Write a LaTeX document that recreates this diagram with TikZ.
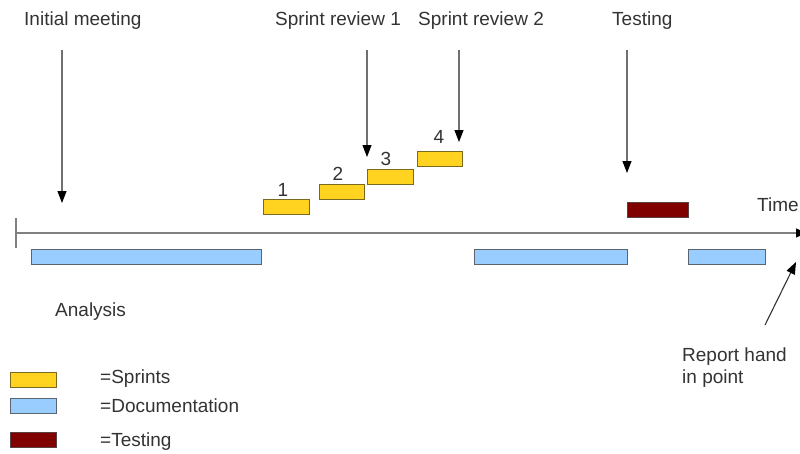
\documentclass[tikz,border=0pt]{standalone}
\usepackage{fontspec}
\setmainfont{Liberation Sans}
\usetikzlibrary{arrows.meta}
\definecolor{txt}{HTML}{333333}
\definecolor{sprintfill}{HTML}{FFD320}
\definecolor{sprintline}{HTML}{7A6A20}
\definecolor{docfill}{HTML}{99CCFF}
\definecolor{docline}{HTML}{5A6570}
\definecolor{testfill}{HTML}{800000}
\definecolor{testline}{HTML}{5A4040}
\definecolor{axis}{HTML}{808080}
\definecolor{pointer}{HTML}{707070}
\tikzset{
  lbl/.style={text=txt, font=\fontsize{19}{22}\selectfont, inner sep=0pt, yshift=-2pt},
  bar/.style={draw, line width=1pt, inner sep=0pt, minimum height=15pt},
  sprint/.style={bar, draw=sprintline, fill=sprintfill},
  doc/.style={bar, draw=docline, fill=docfill},
  test/.style={bar, draw=testline, fill=testfill},
  pointer/.style={draw=pointer, line width=1.1pt,
    -{Triangle[length=12pt,width=9pt,fill=black,color=black]}},
}
\begin{document}
\begin{tikzpicture}[x=1pt, y=-1pt]
\useasboundingbox (0,0) rectangle (800,453);

% time axis
\coordinate (t0) at (16,233);
\coordinate (t1) at (806,233);
\draw[axis, line width=1.4pt] (16,218) -- (16,248);
\draw[axis, line width=1.4pt, -{Triangle[length=10pt,width=9pt,fill=black,color=black]}] (t0) -- (t1);
\node[lbl, anchor=west] (time) at (757,203) {Time};

% milestone labels
\node[lbl, anchor=west] (init) at (24,19) {Initial meeting};
\node[lbl, anchor=west] (sr1) at (275,19) {Sprint review 1};
\node[lbl, anchor=west] (sr2) at (418,19) {Sprint review 2};
\node[lbl, anchor=west] (testing) at (612,19) {Testing};

% sprints
\node[sprint, minimum width=46pt] (s1) at (286,206.5) {};
\node[sprint, minimum width=45pt] (s2) at (341.5,191.5) {};
\node[sprint, minimum width=46pt] (s3) at (390,176.5) {};
\node[sprint, minimum width=45pt] (s4) at (439.5,158.5) {};
\node[lbl] (n1) at (283,188) {1};
\node[lbl] (n2) at (338,172) {2};
\node[lbl] (n3) at (386,157) {3};
\node[lbl] (n4) at (439,135) {4};

% documentation
\node[doc, minimum width=230pt] (d1) at (146,256.5) {};
\node[doc, minimum width=153pt] (d2) at (550.5,256.5) {};
\node[doc, minimum width=77pt] (d3) at (726.5,256.5) {};

% testing
\node[test, minimum width=61pt] (tb) at (657.5,210) {};

% milestone pointers
\coordinate (a0) at (62,50);   \coordinate (b0) at (62,203);
\coordinate (a1) at (367,50);  \coordinate (b1) at (367,157);
\coordinate (a2) at (459,50);  \coordinate (b2) at (459,142);
\coordinate (a3) at (627,50);  \coordinate (b3) at (627,173);
\draw[pointer] (a0) -- (b0);
\draw[pointer] (a1) -- (b1);
\draw[pointer] (a2) -- (b2);
\draw[pointer] (a3) -- (b3);

% report hand-in pointer
\coordinate (r0) at (765,325);
\coordinate (r1) at (796,262);
\draw[pointer, draw=txt] (r0) -- (r1);
\node[lbl, anchor=west, align=left] (report) at (682,366) {Report hand\\in point};

\node[lbl, anchor=west] (analysis) at (55,310) {Analysis};

% legend
\node[sprint, minimum width=46pt] (ks) at (33,379.5) {};
\node[doc, minimum width=46pt] (kd) at (33,405.5) {};
\node[test, minimum width=46pt] (kt) at (33,439.5) {};
\node[lbl, anchor=west] (ls) at (100,377) {=Sprints};
\node[lbl, anchor=west] (ld) at (100,404) {=Documentation};
\node[lbl, anchor=west] (lt) at (100,440) {=Testing};
\end{tikzpicture}
\end{document}
